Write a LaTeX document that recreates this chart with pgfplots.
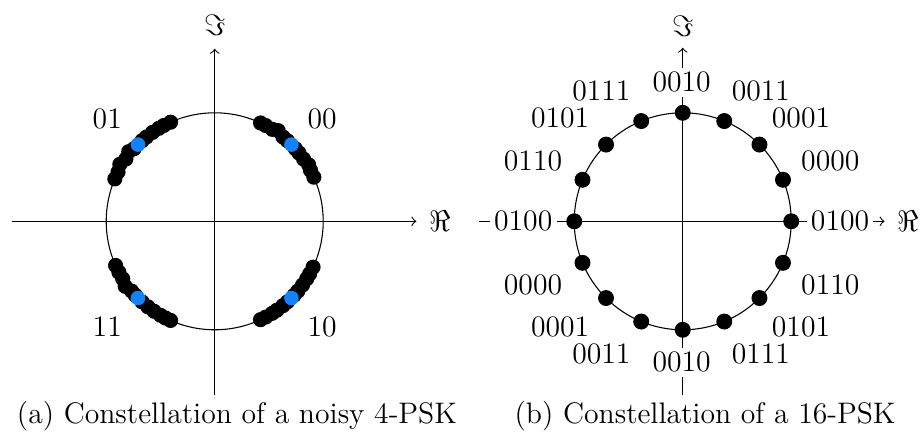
\documentclass[border=0pt]{standalone}
\usepackage{pgfplots}
\pgfplotsset{compat=1.18}
\definecolor{psblue}{RGB}{20,130,250}
\begin{document}
\fontsize{11}{13.2}\selectfont
\begin{tikzpicture}
\useasboundingbox (-79.55pt,-79.18pt) rectangle (262.05pt,81.99pt);
% ---------- (a) noisy 4-PSK ----------
\begin{axis}[at={(0pt,0pt)}, anchor=origin, x=40.2pt, y=40.2pt,
  xmin=-1.87, xmax=1.86, ymin=-1.6, ymax=1.59, hide axis, clip=false]
\draw[->] (axis cs:-1.868,0) -- (axis cs:1.858,0);
\draw[->] (axis cs:0,-1.60) -- (axis cs:0,1.59);
\draw (axis cs:0,0) circle[radius=1];
\addplot[only marks, mark=*, mark size=2.6pt, black] coordinates {
(0.9135,0.4067) (0.8829,0.4695) (0.8660,0.5203) (0.8192,0.5736) (0.7771,0.6293) (0.7431,0.6691)
(0.6691,0.7431) (0.6293,0.7771) (0.5850,0.8356) (0.5299,0.8480) (0.4695,0.8829) (0.4226,0.9063)
(-0.4067,0.9135) (-0.4695,0.8829) (-0.5150,0.8572) (-0.5736,0.8192) (-0.6293,0.7771) (-0.6691,0.7431)
(-0.7431,0.6691) (-0.7926,0.6419) (-0.8192,0.5736) (-0.8743,0.5253) (-0.8910,0.4540) (-0.9205,0.3907)
(-0.9135,-0.4067) (-0.8829,-0.4695) (-0.8480,-0.5299) (-0.8251,-0.5996) (-0.7660,-0.6428) (-0.7314,-0.6820)
(-0.6691,-0.7431) (-0.6157,-0.7880) (-0.5592,-0.8290) (-0.5000,-0.8660) (-0.4540,-0.8910) (-0.4067,-0.9135)
(0.9063,-0.4226) (0.8746,-0.4848) (0.8480,-0.5299) (0.8090,-0.5878) (0.7660,-0.6428) (0.7314,-0.6820)
(0.6691,-0.7431) (0.6293,-0.7771) (0.5736,-0.8192) (0.5299,-0.8480) (0.4695,-0.8829) (0.4226,-0.9063)
};
\addplot[only marks, mark=*, mark size=2.5pt, psblue] coordinates {
(0.7071,0.7071) (-0.7071,0.7071) (-0.7071,-0.7071) (0.7071,-0.7071)
};
\node at (axis cs:0.99,0.94) {00};
\node at (axis cs:-0.99,0.94) {01};
\node at (axis cs:-0.99,-0.97) {11};
\node at (axis cs:0.99,-0.97) {10};
\node at (axis cs:2.08,0) {$\Re$};
\node at (axis cs:0,1.81) {$\Im$};
\end{axis}
% ---------- (b) 16-PSK ----------
\begin{axis}[at={(173.4pt,0pt)}, anchor=origin, x=40.2pt, y=40.2pt,
  xmin=-1.88, xmax=1.86, ymin=-1.6, ymax=1.6, hide axis, clip=false]
\draw[->] (axis cs:-1.88,0) -- (axis cs:1.86,0);
\draw[->] (axis cs:0,-1.60) -- (axis cs:0,1.60);
\draw (axis cs:0,0) circle[radius=1];
\addplot[only marks, mark=*, mark size=2.75pt, black] coordinates {
(1,0) (0.9239,0.3827) (0.7071,0.7071) (0.3827,0.9239)
(0,1) (-0.3827,0.9239) (-0.7071,0.7071) (-0.9239,0.3827)
(-1,0) (-0.9239,-0.3827) (-0.7071,-0.7071) (-0.3827,-0.9239)
(0,-1) (0.3827,-0.9239) (0.7071,-0.7071) (0.9239,-0.3827)
};
\begin{scope}[every node/.style={fill=white, inner sep=1.6pt}]
\node at (axis cs:-0.01,1.28) {0010};
\node at (axis cs:0.72,1.20) {0011};
\node at (axis cs:1.09,0.95) {0001};
\node at (axis cs:1.36,0.56) {0000};
\node at (axis cs:1.45,0) {0100};
\node at (axis cs:1.36,-0.59) {0110};
\node at (axis cs:1.09,-0.97) {0101};
\node at (axis cs:0.72,-1.22) {0111};
\node at (axis cs:-0.01,-1.30) {0010};
\node at (axis cs:-0.75,-1.22) {0011};
\node at (axis cs:-1.13,-0.97) {0001};
\node at (axis cs:-1.38,-0.59) {0000};
\node at (axis cs:-1.47,0) {0100};
\node at (axis cs:-1.38,0.56) {0110};
\node at (axis cs:-1.13,0.95) {0101};
\node at (axis cs:-0.75,1.20) {0111};
\end{scope}
\node at (axis cs:2.08,0) {$\Re$};
\node at (axis cs:0,1.80) {$\Im$};
\end{axis}
\node at (8.26pt,-72pt) {(a) Constellation of a noisy 4-PSK};
\node at (181.7pt,-72pt) {(b) Constellation of a 16-PSK};
\end{tikzpicture}
\end{document}
